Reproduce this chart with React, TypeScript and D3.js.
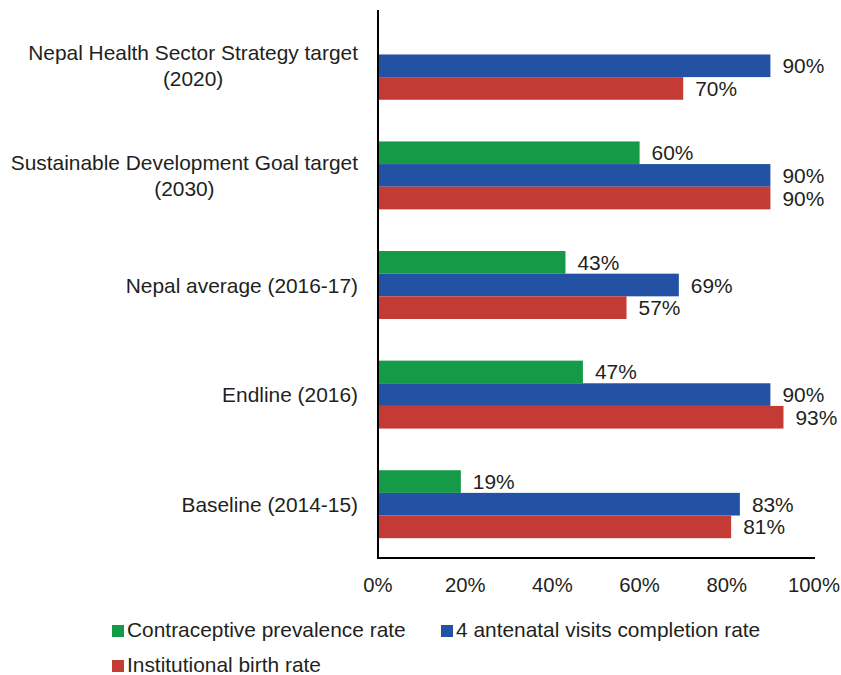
import React, { useEffect, useRef } from "react";
import * as d3 from "d3";

const categories: string[][] = [
  ["Nepal Health Sector Strategy target", "(2020)"],
  ["Sustainable Development Goal target", "(2030)"],
  ["Nepal average (2016-17)"],
  ["Endline (2016)"],
  ["Baseline (2014-15)"],
];
const seriesNames = [
  "Contraceptive prevalence rate",
  "4 antenatal visits completion rate",
  "Institutional birth rate",
];
const seriesColors = ["#159a48", "#2352a4", "#c43a35"];
const contraceptive: (number | null)[] = [null, 60, 43, 47, 19];
const antenatal: (number | null)[] = [90, 90, 69, 90, 83];
const institutional: (number | null)[] = [70, 90, 57, 93, 81];
const xTicks = [0, 20, 40, 60, 80, 100];

const W = 841;
const H = 675;
const FONT = "'Liberation Sans', Arial, Helvetica, sans-serif";
const TEXT = "#231f20";
const FS = 20.9;

export default function App() {
  const ref = useRef<SVGSVGElement>(null);
  useEffect(() => {
    const svg = d3.select(ref.current);
    svg.selectAll("*").remove();
    const x0 = 378;
    const x1 = 814;
    const yTop = 11;
    const yBot = 558;
    const x = d3.scaleLinear().domain([0, 100]).range([x0, x1]);
    const keys = categories.map((c) => c.join(" "));
    const y = d3.scaleBand<string>().domain(keys).range([yTop, yBot + 1]).padding(0);
    const sub = d3
      .scaleBand<number>()
      .domain([0, 1, 2])
      .range([0, y.bandwidth()])
      .paddingInner(0)
      .paddingOuter(0.92);
    const series = [contraceptive, antenatal, institutional];

    const g = svg.append("g");
    keys.forEach((k, ci) => {
      series.forEach((vals, si) => {
        const v = vals[ci];
        if (v == null) return;
        const yy = (y(k) as number) + (sub(si) as number);
        g.append("rect")
          .attr("x", x(0))
          .attr("y", yy)
          .attr("width", x(v) - x(0))
          .attr("height", sub.bandwidth())
          .attr("fill", seriesColors[si]);
        g.append("text")
          .attr("x", x(v) + 12)
          .attr("y", yy + sub.bandwidth() / 2)
          .attr("dy", "0.36em")
          .attr("font-family", FONT)
          .attr("font-size", FS)
          .attr("fill", TEXT)
          .text(`${v}%`);
      });
    });

    // category labels
    categories.forEach((lines, ci) => {
      const cy = (y(keys[ci]) as number) + y.bandwidth() / 2;
      const lh = 26;
      const n = lines.length;
      const tmp = svg
        .append("text")
        .attr("font-family", FONT)
        .attr("font-size", FS)
        .text(lines[0]);
      const w = (tmp.node() as SVGTextElement).getComputedTextLength();
      tmp.remove();
      const cx = 358 - w / 2;
      lines.forEach((line, li) => {
        svg
          .append("text")
          .attr("x", n > 1 ? cx : 358)
          .attr("y", cy + (li - (n - 1) / 2) * lh)
          .attr("dy", "0.36em")
          .attr("text-anchor", n > 1 ? "middle" : "end")
          .attr("font-family", FONT)
          .attr("font-size", FS)
          .attr("fill", TEXT)
          .text(line);
      });
    });

    // axes
    svg
      .append("line")
      .attr("x1", x0)
      .attr("x2", x0)
      .attr("y1", 10)
      .attr("y2", yBot + 1)
      .attr("stroke", "#000")
      .attr("stroke-width", 2);
    svg
      .append("line")
      .attr("x1", x0 - 1)
      .attr("x2", x1 + 1)
      .attr("y1", yBot)
      .attr("y2", yBot)
      .attr("stroke", "#000")
      .attr("stroke-width", 2);

    xTicks.forEach((t) => {
      svg
        .append("text")
        .attr("x", x(t))
        .attr("y", 592)
        .attr("text-anchor", "middle")
        .attr("font-family", FONT)
        .attr("font-size", 20.3)
        .attr("fill", TEXT)
        .text(`${t}%`);
    });

    // legend
    const legendPos = [
      { x: 112, y: 637 },
      { x: 441, y: 637 },
      { x: 112, y: 672 },
    ];
    seriesNames.forEach((name, i) => {
      const p = legendPos[i];
      svg
        .append("rect")
        .attr("x", p.x)
        .attr("y", p.y - 12)
        .attr("width", 12)
        .attr("height", 12)
        .attr("fill", seriesColors[i]);
      svg
        .append("text")
        .attr("x", p.x + 15)
        .attr("y", p.y)
        .attr("font-family", FONT)
        .attr("font-size", FS)
        .attr("fill", TEXT)
        .text(name);
    });
  }, []);
  return (
    <svg
      ref={ref}
      width={W}
      height={H}
      style={{ position: "absolute", left: 0, top: 0, background: "#fff" }}
    />
  );
}
